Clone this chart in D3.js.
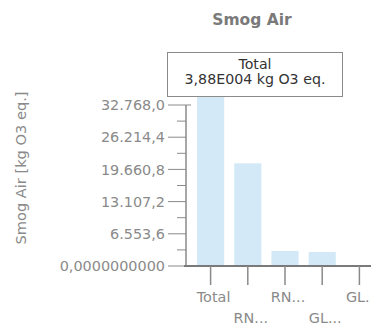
<!DOCTYPE html>
<html><head><meta charset="utf-8">
<script src="https://cdn.jsdelivr.net/npm/d3@7/dist/d3.min.js"></script>
<style>body{margin:0;background:#fff;}svg{display:block;font-family:"DejaVu Sans",sans-serif;}</style>
</head><body>
<svg id="c" width="371" height="327"></svg>
<script>
const categories = ["Total", "RN...", "RN...", "GL...", "GL..."];
const values = [38800, 20900, 3050, 2850, 0];
const yTicks = [0, 6553.6, 13107.2, 19660.8, 26214.4, 32768];
const yTickLabels = ["0,0000000000", "6.553,6", "13.107,2", "19.660,8", "26.214,4", "32.768,0"];
const title = "Smog Air";
const yTitle = "Smog Air [kg O3 eq.]";
const tooltipLines = ["Total", "3,88E004 kg O3 eq."];

const svg = d3.select("#c");
const y = d3.scaleLinear().domain([0, 32768]).range([266, 105]);
const x = d3.scaleBand().domain(d3.range(categories.length)).range([192, 192 + 37.2 * categories.length]).paddingInner(0.27).paddingOuter(0.135);

// bars
svg.append("g").selectAll("rect").data(values).join("rect")
  .attr("x", (d, i) => x(i))
  .attr("width", x.bandwidth())
  .attr("y", d => y(d))
  .attr("height", d => y(0) - y(d))
  .attr("fill", "#d3e9f7");

// y axis
const ya = svg.append("g").attr("transform", "translate(186,0)");
ya.append("line").attr("x1", 0).attr("x2", 0).attr("y1", y(32768)).attr("y2", y(0)).attr("stroke", "#8a8a8a").attr("stroke-width", 1.5);
ya.append("line").attr("x1", 0).attr("x2", 5).attr("y1", y(32768)).attr("y2", y(32768)).attr("stroke", "#8a8a8a");
ya.selectAll(".maj").data(yTicks).join("line")
  .attr("x1", -18).attr("x2", 0).attr("y1", d => y(d)).attr("y2", d => y(d)).attr("stroke", "#8a8a8a");
ya.selectAll(".min").data(yTicks.slice(0, -1).map(d => d + 3276.8)).join("line")
  .attr("x1", -9).attr("x2", 0).attr("y1", d => y(d)).attr("y2", d => y(d)).attr("stroke", "#8a8a8a");
ya.selectAll("text").data(yTicks).join("text")
  .attr("x", -21).attr("y", d => y(d)).attr("dy", "0.36em").attr("text-anchor", "end")
  .attr("font-size", 14.4).attr("fill", "#8a8a8a").text((d, i) => yTickLabels[i]);

// x axis
const xa = svg.append("g");
xa.append("line").attr("x1", 184).attr("x2", 371).attr("y1", y(0)).attr("y2", y(0)).attr("stroke", "#7a7a7a").attr("stroke-width", 2);
xa.selectAll("line.t").data(categories).join("line").attr("class", "t")
  .attr("x1", (d, i) => x(i) + x.bandwidth() / 2).attr("x2", (d, i) => x(i) + x.bandwidth() / 2)
  .attr("y1", y(0)).attr("y2", y(0) + 19).attr("stroke", "#8a8a8a").attr("stroke-width", 1.5);
xa.selectAll("text").data(categories).join("text")
  .attr("x", (d, i) => x(i) + x.bandwidth() / 2 + 3)
  .attr("y", (d, i) => i % 2 === 0 ? 302 : 323)
  .attr("text-anchor", "middle").attr("font-size", 14.4).attr("fill", "#8a8a8a").text(d => d);

// titles
svg.append("text").attr("x", 252).attr("y", 25).attr("text-anchor", "middle")
  .attr("font-size", 15.5).attr("font-weight", "bold").attr("fill", "#7a7a7a").text(title);
svg.append("text").attr("transform", "translate(26,168) rotate(-90)").attr("text-anchor", "middle")
  .attr("font-size", 14.6).attr("fill", "#8a8a8a").text(yTitle);

// tooltip
const tt = svg.append("g");
tt.append("rect").attr("x", 167.5).attr("y", 52.5).attr("width", 175).attr("height", 44)
  .attr("fill", "#fff").attr("stroke", "#8a8a8a");
tt.selectAll("text").data(tooltipLines).join("text")
  .attr("x", 255).attr("y", (d, i) => 69 + i * 15).attr("text-anchor", "middle")
  .attr("font-size", 14.2).attr("fill", "#333").text(d => d);
</script>
</body></html>
